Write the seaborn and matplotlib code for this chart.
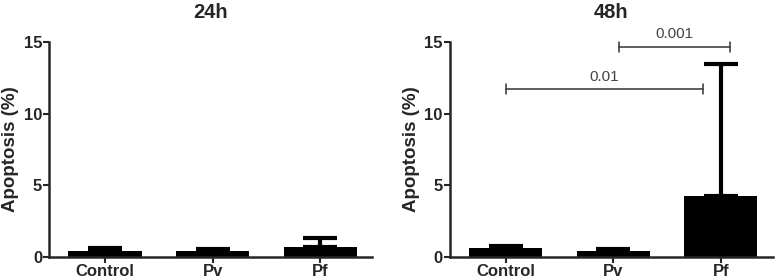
import seaborn as sns
import matplotlib.pyplot as plt
import numpy as np

groups = ["Control", "Pv", "Pf"]
mean_24h = [0.44, 0.42, 0.72]
sem_24h = [0.16, 0.14, 0.58]
mean_48h = [0.60, 0.44, 4.25]
sem_48h = [0.19, 0.12, 9.25]

# significance brackets for 48h: (x start, x end, height, label)
brackets_48h = [(0.0, 1.83, 11.7, "0.01"), (1.05, 2.08, 14.65, "0.001")]

sns.set_style("ticks")
plt.rcParams['font.family'] = ['Liberation Sans', 'DejaVu Sans']

fig = plt.figure(figsize=(7.78, 2.8), dpi=100)
ax1 = fig.add_axes([0.063, 0.082, 0.415, 0.768])
ax2 = fig.add_axes([0.578, 0.082, 0.415, 0.768])


def draw_panel(ax, means, errs, title):
    sns.barplot(x=groups, y=means, color="black", width=0.68, ax=ax,
                edgecolor="black", linewidth=0)
    ax.errorbar(np.arange(len(groups)), means,
                yerr=[np.zeros(len(errs)), errs], fmt="none",
                ecolor="black", elinewidth=3, capsize=12, capthick=3)
    ax.set_ylim(0, 15)
    ax.set_xlim(-0.52, 2.48)
    ax.set_yticks([0, 5, 10, 15])
    ax.set_ylabel("Apoptosis (%)", fontsize=13.5, fontweight="bold", labelpad=3)
    ax.set_title(title, fontsize=14.5, fontweight="bold", pad=17)
    for lab in ax.get_xticklabels() + ax.get_yticklabels():
        lab.set_fontweight("bold")
        lab.set_fontsize(12)
    ax.tick_params(axis="both", width=1.5, length=4, pad=1)
    for s in ["left", "bottom"]:
        ax.spines[s].set_linewidth(1.8)
    sns.despine(ax=ax)


draw_panel(ax1, mean_24h, sem_24h, "24h")
draw_panel(ax2, mean_48h, sem_48h, "48h")

for x0, x1, h, lab in brackets_48h:
    ax2.plot([x0, x1], [h, h], color="#333333", lw=1.1, clip_on=False)
    for xx in (x0, x1):
        ax2.plot([xx, xx], [h - 0.35, h + 0.35], color="#333333", lw=1.1,
                 clip_on=False)
    ax2.text((x0 + x1) / 2, h + 0.4, lab, ha="center", va="bottom",
             fontsize=11, color="#444444", clip_on=False)

fig.savefig("out.png", dpi=100)
